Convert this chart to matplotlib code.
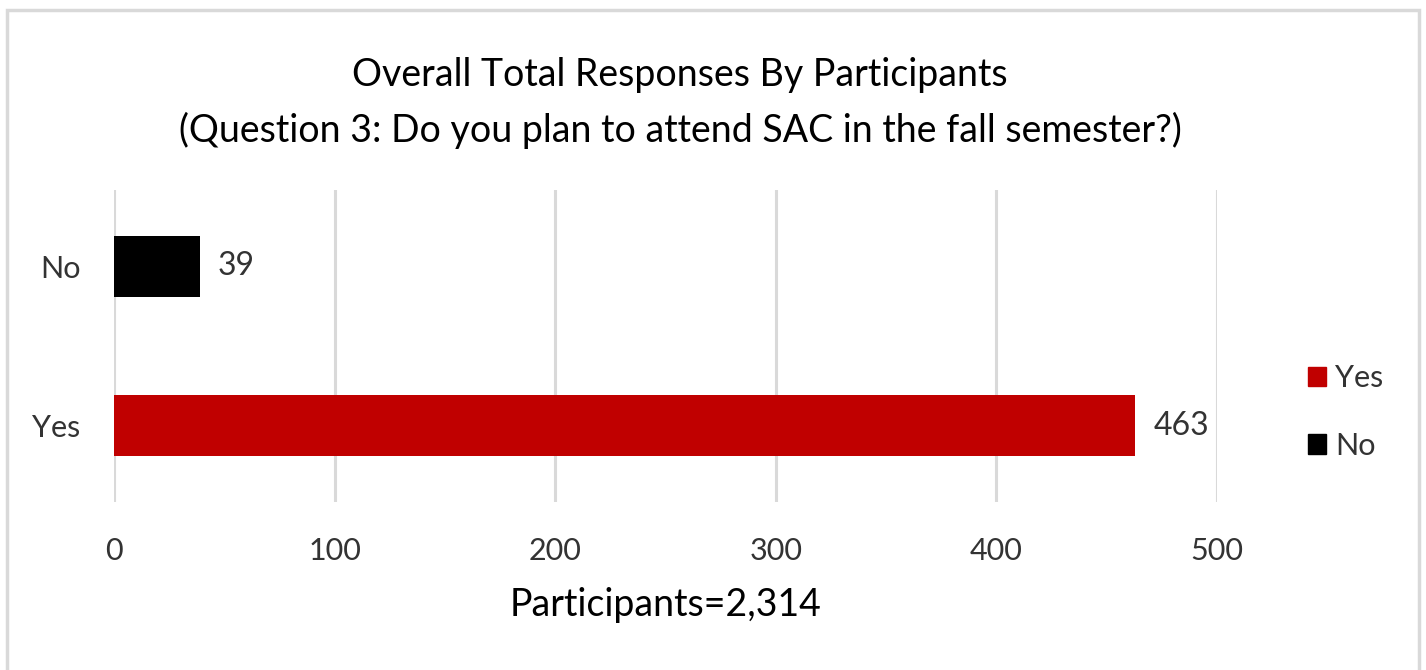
import matplotlib.pyplot as plt
from matplotlib.patches import Rectangle, Patch

categories = ["Yes", "No"]
counts = [463, 39]
colors = ["#C00000", "#000000"]
x_ticks = [0, 100, 200, 300, 400, 500]
title_lines = ["Overall Total Responses By Participants",
               "(Question 3: Do you plan to attend SAC in the fall semester?)"]
x_label = "Participants=2,314"

plt.rcParams["font.family"] = ["Lato", "DejaVu Sans"]

fig = plt.figure(figsize=(14.26, 6.7), dpi=100)
ax = fig.add_axes([114 / 1426, 1 - 502 / 670, 1103 / 1426, 312 / 670])

ypos = list(range(len(categories)))
ax.barh(ypos, counts, height=0.38, color=colors, zorder=3)
for y, v in zip(ypos, counts):
    ax.annotate(str(v), (v, y), xytext=(13, 0), textcoords="offset points",
                va="center", ha="left", fontsize=23, color="#333333")

ax.set_xlim(0, 500)
ax.set_ylim(-0.48, 1.48)
ax.set_xticks(x_ticks)
ax.set_yticks(ypos)
ax.set_yticklabels(categories)
ax.tick_params(axis="both", length=0, labelsize=22, labelcolor="#333333")
ax.tick_params(axis="x", pad=25)
ax.tick_params(axis="y", pad=24)
ax.grid(axis="x", color="#d9d9d9", linewidth=2.2, zorder=0)
for s in ax.spines.values():
    s.set_visible(False)

ax.set_xlabel(x_label, fontsize=27, color="#000000", labelpad=16)

fig.text(680 / 1426, 1 - 75 / 670, title_lines[0], ha="center", va="center",
         fontsize=27, color="#000000")
fig.text(680 / 1426, 1 - 130 / 670, title_lines[1], ha="center", va="center",
         fontsize=27, color="#000000")

handles = [Patch(color=c, label=l) for c, l in zip(colors, categories)]
fig.legend(handles=handles, loc="center left", bbox_to_anchor=(1280 / 1426, 1 - 412 / 670),
           frameon=False, fontsize=22, handlelength=0.6, handleheight=0.6,
           handletextpad=0.3, labelspacing=1.3, labelcolor="#333333")

fig.patches.append(Rectangle((7 / 1426, -0.05), 1412 / 1426, 1 - 10 / 670 + 0.05,
                             transform=fig.transFigure, fill=False,
                             edgecolor="#d9d9d9", linewidth=2.5))

fig.savefig("out.png", dpi=100)
